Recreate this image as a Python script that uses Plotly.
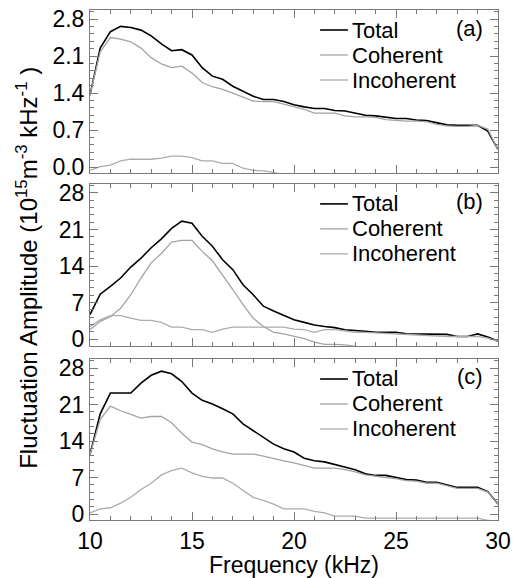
import plotly.graph_objects as go
from plotly.subplots import make_subplots

freq = [10 + 0.5 * i for i in range(41)]

a_total = [1.36, 2.25, 2.56, 2.66, 2.64, 2.59, 2.48, 2.33, 2.20, 2.22, 2.12, 1.88, 1.72, 1.66,
           1.53, 1.43, 1.34, 1.28, 1.28, 1.24, 1.18, 1.14, 1.11, 1.11, 1.07, 1.06, 1.02, 0.98,
           0.97, 0.95, 0.92, 0.92, 0.89, 0.88, 0.84, 0.80, 0.79, 0.79, 0.79, 0.68, 0.33]
a_coh = [1.36, 2.18, 2.45, 2.42, 2.37, 2.25, 2.07, 1.95, 1.88, 1.91, 1.78, 1.60, 1.52, 1.47,
         1.40, 1.32, 1.25, 1.24, 1.24, 1.19, 1.14, 1.09, 1.02, 1.02, 1.02, 0.97, 0.95, 0.95,
         0.94, 0.90, 0.88, 0.87, 0.87, 0.86, 0.81, 0.78, 0.77, 0.77, 0.79, 0.72, 0.32]
a_inc = [-0.06, 0.01, 0.04, 0.12, 0.15, 0.15, 0.15, 0.17, 0.21, 0.21, 0.18, 0.12, 0.12, 0.07,
         0.07, -0.02, -0.06, -0.07, -0.10, -0.15, -0.18, -0.20, -0.20, -0.20, -0.20, -0.20,
         -0.20, -0.20, -0.20, -0.20, -0.20, -0.20, -0.20, -0.20, -0.20, -0.20, -0.20, -0.20,
         -0.20, -0.20, -0.20]

b_total = [4.7, 8.6, 10.1, 11.7, 13.8, 15.5, 17.5, 19.2, 21.2, 22.6, 22.2, 19.7, 17.8, 15.2,
           13.3, 10.4, 8.5, 6.3, 5.4, 4.5, 3.7, 3.2, 2.7, 2.4, 2.2, 1.8, 1.7, 1.5, 1.3, 1.3,
           1.3, 1.0, 1.0, 1.0, 1.0, 0.9, 0.5, 0.5, 1.0, 0.4, -0.4]
b_coh = [1.8, 3.4, 4.3, 5.9, 8.5, 11.7, 14.6, 16.4, 18.6, 18.9, 18.9, 16.8, 15.0, 12.3,
         9.5, 6.6, 4.0, 2.4, 1.3, 1.0, 0.5, 0.1, -0.6, -1.0, -1.0, -1.1, -1.4, -1.6, -1.6,
         -1.6, -1.6, -1.6, -1.6, -1.6, -1.6, -1.6, -1.6, -1.6, -1.6, -1.6, -1.6]
b_inc = [2.4, 3.7, 4.5, 4.5, 4.0, 3.6, 3.6, 3.2, 2.3, 2.3, 1.8, 1.8, 1.3, 1.9, 2.3, 2.3,
         2.3, 2.3, 2.3, 2.3, 1.9, 1.8, 1.3, 1.8, 1.8, 1.5, 1.3, 1.3, 1.2, 1.0, 1.0, 0.8,
         0.8, 0.6, 0.6, 0.5, 0.5, 0.5, 0.5, 0.2, -0.4]

c_total = [11.4, 19.2, 23.2, 23.2, 23.2, 25.1, 26.6, 27.4, 26.9, 25.4, 23.2, 21.8, 21.1, 20.2,
           19.2, 17.3, 16.0, 14.6, 13.4, 12.5, 11.9, 10.7, 10.2, 10.0, 9.5, 9.0, 8.5, 7.7,
           7.4, 7.4, 7.0, 6.6, 6.5, 6.1, 6.1, 5.6, 5.1, 5.1, 5.1, 4.3, 1.9]
c_coh = [11.4, 18.1, 20.7, 19.8, 19.1, 18.4, 18.7, 18.7, 17.5, 15.5, 13.8, 13.3, 12.5, 11.9,
         11.5, 11.5, 11.5, 11.1, 10.6, 10.2, 9.8, 9.3, 8.8, 8.8, 8.8, 8.5, 8.1, 7.5, 7.2,
         7.0, 6.8, 6.4, 6.3, 5.9, 5.9, 5.4, 4.9, 4.9, 4.9, 4.2, 1.9]
c_inc = [0.2, 1.0, 1.2, 2.1, 3.2, 4.7, 5.9, 7.5, 8.3, 8.8, 7.9, 7.2, 6.9, 6.9, 5.9, 4.5,
         3.2, 2.6, 1.9, 1.0, 1.0, 1.0, 0.5, 0.2, -0.4, -0.4, -0.4, -0.8, -0.8, -0.8, -0.8,
         -0.8, -0.8, -0.8, -0.8, -0.8, -0.8, -0.8, -0.8, -1.2, -1.5]

panel_labels = ["(a)", "(b)", "(c)"]
series_names = ["Total", "Coherent", "Incoherent"]
colors = ["#000000", "#a4a4a4", "#acacac"]
widths = [1.6, 1.3, 1.3]
panels = [(a_total, a_coh, a_inc), (b_total, b_coh, b_inc), (c_total, c_coh, c_inc)]
y_ranges = [[-0.114, 2.97], [-1.34, 29.73], [-1.15, 29.73]]
y_ticks = [[0.0, 0.7, 1.4, 2.1, 2.8], [0, 7, 14, 21, 28], [0, 7, 14, 21, 28]]
y_fmt = [".1f", "d", "d"]
y_minor = [0.14, 1.4, 1.4]

FONT = "Liberation Sans, Arial, Helvetica, sans-serif"
AXIS_COLOR = "#7a7a7a"

fig = make_subplots(rows=3, cols=1, shared_xaxes=False, vertical_spacing=0.0)

domains = [[0.680, 1.0], [0.341, 0.659], [0.0, 0.3157]]

for i, series in enumerate(panels):
    for j, vals in enumerate(series):
        fig.add_trace(
            go.Scatter(x=freq, y=vals, mode="lines", name=series_names[j],
                       line=dict(color=colors[j], width=widths[j]),
                       legendgroup=series_names[j], showlegend=False),
            row=i + 1, col=1)

# legend rows (offset in px below each panel top)
row_offsets = [20, 45, 70]
for i in range(3):
    ax = "" if i == 0 else str(i + 1)
    fig.layout["xaxis" + ax].update(
        domain=[0, 1], range=[10, 30], tickvals=[10, 15, 20, 25, 30],
        showticklabels=(i == 2), ticks="inside", ticklen=8, tickcolor=AXIS_COLOR,
        minor=dict(dtick=1, ticks="inside", ticklen=4, tickcolor=AXIS_COLOR),
        showline=True, linecolor=AXIS_COLOR, linewidth=1, mirror="ticks",
        showgrid=False, zeroline=False,
        tickfont=dict(family=FONT, size=23, color="black"))
    fig.layout["yaxis" + ax].update(
        domain=domains[i], range=y_ranges[i], tickvals=y_ticks[i], tickformat=y_fmt[i],
        ticks="inside", ticklen=8, tickcolor=AXIS_COLOR,
        minor=dict(dtick=y_minor[i], ticks="inside", ticklen=4, tickcolor=AXIS_COLOR),
        showline=True, linecolor=AXIS_COLOR, linewidth=1, mirror="ticks",
        showgrid=False, zeroline=False,
        tickfont=dict(family=FONT, size=23, color="black"))
    h = (domains[i][1] - domains[i][0]) * 510
    for j, name in enumerate(series_names):
        yd = 1 - row_offsets[j] / h
        fig.add_shape(type="line", xref="x" + ax + " domain", yref="y" + ax + " domain",
                      x0=0.564, x1=0.632, y0=yd, y1=yd,
                      line=dict(color=colors[j], width=widths[j]))
        fig.add_annotation(text=name, xref="x" + ax + " domain", yref="y" + ax + " domain",
                           x=0.637, y=yd, xanchor="left", yanchor="middle", showarrow=False,
                           font=dict(family=FONT, size=22, color="black"))
    fig.add_annotation(text=panel_labels[i], xref="x" + ax + " domain", yref="y" + ax + " domain",
                       x=0.968, y=1 - 18 / h, xanchor="right", yanchor="middle",
                       showarrow=False, font=dict(family=FONT, size=22, color="black"))

fig.layout.xaxis3.title = dict(text="Frequency (kHz)", standoff=0,
                               font=dict(family=FONT, size=23, color="black"))

fig.add_annotation(
    text="Fluctuation Amplitude (10<sup>15</sup>m<sup>-3</sup> kHz<sup>-1</sup> )",
    xref="paper", yref="paper", x=-0.155, y=0.494, textangle=-90,
    xanchor="center", yanchor="middle", showarrow=False,
    font=dict(family=FONT, size=24, color="black"))

fig.update_layout(
    width=516, height=578, margin=dict(l=90, r=18, t=10, b=58, autoexpand=False),
    paper_bgcolor="white", plot_bgcolor="white", showlegend=False)

fig.write_html("out.html", config={"displayModeBar": False},
               post_script="document.body.style.margin='0';document.body.style.overflow='hidden';")
